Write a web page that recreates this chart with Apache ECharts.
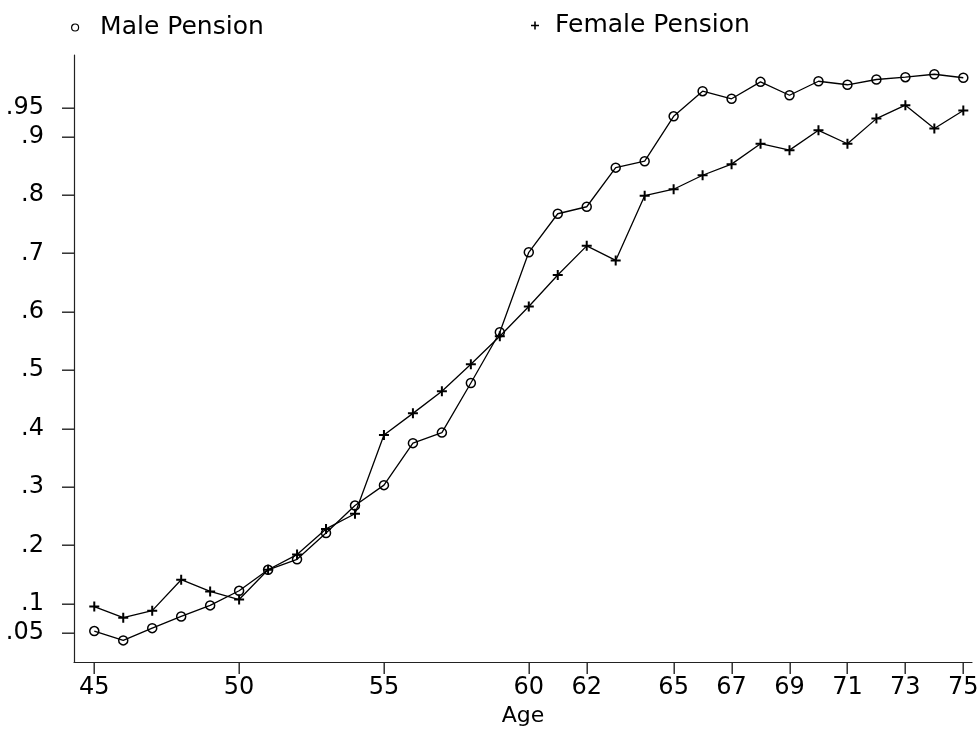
<!DOCTYPE html>
<html>
<head>
<meta charset="utf-8">
<script src="https://cdn.jsdelivr.net/npm/echarts@6/dist/echarts.min.js"></script>
<style>html,body{margin:0;padding:0;background:#fff}#c{width:979px;height:731px}</style>
</head>
<body>
<div id="c"></div>
<script>
var ages = [45,46,47,48,49,50,51,52,53,54,55,56,57,58,59,60,61,62,63,64,65,66,67,68,69,70,71,72,73,74,75];
var malePension = [0.053,0.037,0.058,0.078,0.097,0.122,0.158,0.176,0.221,0.268,0.303,0.375,0.393,0.478,0.565,0.702,0.768,0.780,0.847,0.858,0.935,0.978,0.965,0.994,0.971,0.995,0.989,0.998,1.002,1.007,1.001];
var femalePension = [0.095,0.076,0.088,0.141,0.121,0.107,0.158,0.184,0.228,0.254,0.389,0.426,0.464,0.510,0.558,0.609,0.663,0.713,0.688,0.799,0.810,0.834,0.853,0.888,0.877,0.911,0.888,0.931,0.954,0.914,0.945];
var xTicks = [45,50,55,60,62,65,67,69,71,73,75];
var yTicks = [0.05,0.1,0.2,0.3,0.4,0.5,0.6,0.7,0.8,0.9,0.95];
var seriesNames = ['Male Pension','Female Pension'];

var FONT = 'DejaVu Sans';
var X_MIN = 44.3, X_MAX = 75.3, Y_MIN = 0, Y_MAX = 1.04;
var TICK_LEN = 12;
var plusPath = 'path://M4,0h2v4h4v2h-4v4h-2v-4h-4v-2h4z';

function pairs(vals){ return ages.map(function(a,i){ return [a, vals[i]]; }); }
function yFmt(v){ return String(+v.toFixed(2)).replace(/^0\./,'.'); }

var chart = echarts.init(document.getElementById('c'), null, {renderer:'canvas'});
chart.setOption({
  animation: false,
  backgroundColor: '#fff',
  textStyle: {fontFamily: FONT, color: '#000'},
  legend: [
    {left: 66, top: 10, itemWidth: 40, itemHeight: 7, selectedMode: false, symbolKeepAspect: true,
     textStyle: {fontFamily: FONT, fontSize: 25, color: '#000'},
     data: [{name: seriesNames[0], icon: 'circle', itemStyle: {color: '#fff', borderColor: '#000', borderWidth: 1.2}}]},
    {left: 526, top: 8, itemWidth: 30, itemHeight: 8, selectedMode: false, symbolKeepAspect: true,
     textStyle: {fontFamily: FONT, fontSize: 25, color: '#000'},
     data: [{name: seriesNames[1], icon: plusPath, itemStyle: {color: '#000', borderWidth: 0}}]}
  ],
  grid: {left: 74, right: 7, top: 55, bottom: 69, containLabel: false, outerBoundsMode: 'none'},
  xAxis: {
    type: 'value', min: X_MIN, max: X_MAX,
    name: 'Age', nameLocation: 'middle', nameGap: 39,
    nameTextStyle: {fontFamily: FONT, fontSize: 22, color: '#000'},
    axisLine: {show: true, onZero: false, lineStyle: {color: '#222', width: 1.2}},
    axisTick: {show: false},
    axisLabel: {customValues: xTicks, fontFamily: FONT, fontSize: 24, color: '#000', margin: 14},
    splitLine: {show: false}
  },
  yAxis: {
    type: 'value', min: Y_MIN, max: Y_MAX,
    axisLine: {show: true, onZero: false, lineStyle: {color: '#222', width: 1.2}},
    axisTick: {show: false},
    axisLabel: {customValues: yTicks, fontFamily: FONT, fontSize: 24, color: '#000', margin: 30, formatter: yFmt},
    splitLine: {show: false}
  },
  series: [
    {name: seriesNames[0], type: 'line', data: pairs(malePension),
     symbol: 'circle', symbolSize: 9, showAllSymbol: true,
     lineStyle: {color: '#000', width: 1.3},
     itemStyle: {color: 'rgba(255,255,255,0)', borderColor: '#000', borderWidth: 1.5}},
    {name: seriesNames[1], type: 'line', data: pairs(femalePension),
     symbol: plusPath, symbolSize: 10, showAllSymbol: true,
     lineStyle: {color: '#000', width: 1.3},
     itemStyle: {color: '#000', borderWidth: 0}}
  ]
});

// Tick marks as thin filled rectangles, positioned through the chart's own axis scales
var tickEls = [];
xTicks.forEach(function(v){
  var p = chart.convertToPixel({gridIndex: 0}, [v, Y_MIN]);
  tickEls.push({type: 'rect', silent: true, z: 100, zlevel: 0,
    shape: {x: Math.round(p[0]) - 0.5, y: p[1], width: 1.4, height: TICK_LEN},
    style: {fill: '#222'}});
});
yTicks.forEach(function(v){
  var p = chart.convertToPixel({gridIndex: 0}, [X_MIN, v]);
  tickEls.push({type: 'rect', silent: true, z: 100, zlevel: 0,
    shape: {x: p[0] - TICK_LEN, y: Math.round(p[1]) - 0.5, width: TICK_LEN, height: 1.4},
    style: {fill: '#222'}});
});
chart.setOption({graphic: tickEls});
</script>
</body>
</html>
